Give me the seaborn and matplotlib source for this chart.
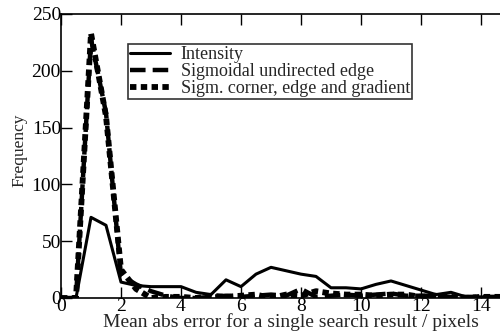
import matplotlib
matplotlib.use("Agg")
import matplotlib.pyplot as plt
import seaborn as sns
import numpy as np
import pandas as pd

sns.set_theme(style="ticks")
plt.rcParams['font.family'] = ['Liberation Serif', 'DejaVu Serif']
plt.rcParams['mathtext.fontset'] = 'stix'

x_vals = [0, 0.5, 1, 1.5, 2, 2.5, 3, 3.5, 4, 4.5, 5, 5.5, 6, 6.5, 7, 7.5,
          8, 8.5, 9, 9.5, 10, 10.5, 11, 11.5, 12, 12.5, 13, 13.5, 14, 14.5, 15]
intensity = [0, 0, 71, 64, 14, 11, 10, 10, 10, 5, 3, 16, 10, 21, 27, 24,
             21, 19, 9, 9, 8, 12, 15, 11, 7, 3, 5, 1, 1, 1, 1]
sigmoidal = [0, 0, 228, 163, 20, 12, 6, 2, 0, 0, 1, 2, 1, 2, 3, 2,
             8, 1, 2, 3, 2, 3, 4, 2, 2, 2, 1, 1, 1, 1, 1]
sigm_corner = [0, 0, 233, 160, 25, 8, 0, 1, 1, 0, 2, 1, 2, 3, 0, 3,
               2, 6, 4, 3, 3, 2, 3, 3, 1, 2, 1, 0, 1, 1, 1]
labels = ["Intensity", "Sigmoidal undirected edge", "Sigm. corner, edge and gradient"]
x_ticks = [0, 2, 4, 6, 8, 10, 12, 14]
y_ticks = [0, 50, 100, 150, 200, 250]

fig = plt.figure(figsize=(5, 3.31), dpi=100)
ax = fig.add_axes([61/500, 1 - 298/331, 450/500, (298 - 14)/331])

styles = [dict(lw=2.2, ls='-'),
          dict(lw=3.2, ls=(0, (3.5, 1.6))),
          dict(lw=4.2, ls=(0, (1.1, 0.75)))]
for ys, lab, st in zip([intensity, sigmoidal, sigm_corner], labels, styles):
    df = pd.DataFrame({"x": x_vals, "y": ys})
    sns.lineplot(data=df, x="x", y="y", ax=ax, color="black", label=lab,
                 linewidth=st['lw'], linestyle=st['ls'])

ax.set_xlim(0, 15)
ax.set_ylim(0, 250)
ax.set_xticks(x_ticks)
ax.set_yticks(y_ticks)
ax.tick_params(direction='in', length=8, width=1, labelsize=14, top=True,
               pad=0, colors='black')
ax.tick_params(axis='x', pad=0)
for s in ax.spines.values():
    s.set_linewidth(1.2)
    s.set_color('black')
ax.set_xlabel("Mean abs error for a single search result / pixels", fontsize=14)
ax.xaxis.set_label_coords(0.51, -0.102, transform=ax.transAxes)
ax.xaxis.label.set_va('baseline')
ax.set_ylabel("Frequency", fontsize=12.5)
ax.yaxis.set_label_coords(-0.075, 0.52)

leg = ax.legend(loc='upper left', bbox_to_anchor=((128 - 61)/450, (298 - 44)/284),
                fontsize=13, frameon=True, fancybox=False, edgecolor='black',
                handlelength=2.2, handletextpad=0.6, borderpad=0.12,
                labelspacing=0.0, borderaxespad=0)
leg.get_frame().set_linewidth(1.2)

fig.savefig("out.png", dpi=100)
